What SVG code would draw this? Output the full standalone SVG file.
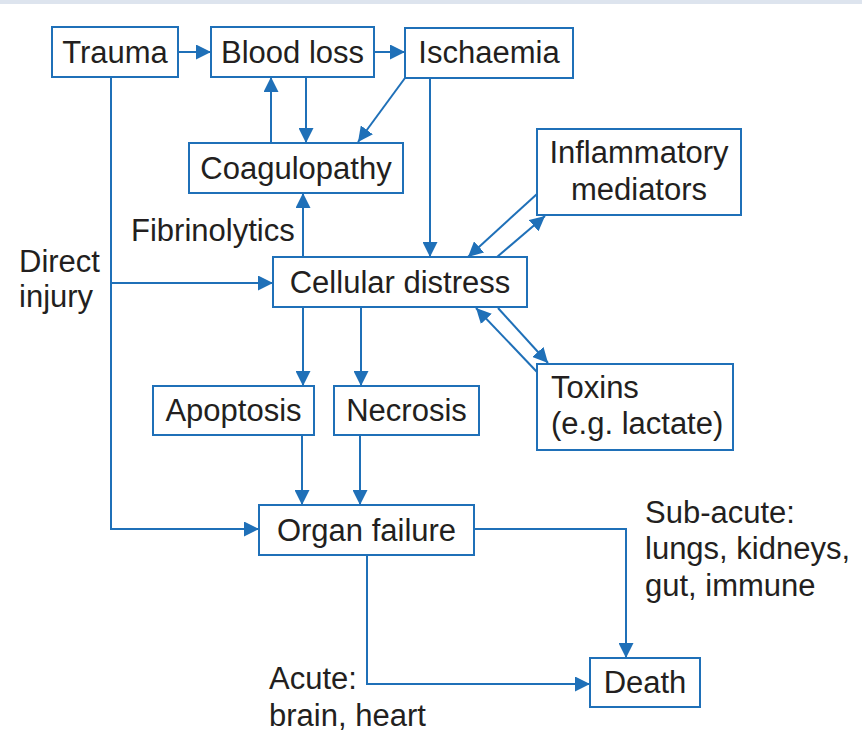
<svg xmlns="http://www.w3.org/2000/svg" width="862" height="745" viewBox="0 0 862 745">
<defs>
<style>
.box{fill:#fff;stroke:#1f70b8;stroke-width:2}
.ln{fill:none;stroke:#1f70b8;stroke-width:2}
.t{font-family:"Liberation Sans",Arial,sans-serif;font-size:31px;fill:#231f20}
.c{text-anchor:middle}
</style>
<marker id="ah" markerUnits="userSpaceOnUse" markerWidth="16" markerHeight="15" refX="15" refY="7.5" orient="auto">
<path d="M0,0 L15,7.5 L0,15 z" fill="#1f70b8"/>
</marker>
</defs>
<rect x="0" y="0" width="862" height="745" fill="#fff"/>
<rect x="0" y="0" width="862" height="4" fill="#dde4ee"/>
<g id="connectors">
<line class="ln" x1="178" y1="52" x2="211" y2="52" marker-end="url(#ah)"/>
<line class="ln" x1="374" y1="52" x2="405" y2="52" marker-end="url(#ah)"/>
<line class="ln" x1="271" y1="143" x2="271" y2="77" marker-end="url(#ah)"/>
<line class="ln" x1="306" y1="77" x2="306" y2="143" marker-end="url(#ah)"/>
<line class="ln" x1="405" y1="78" x2="358" y2="142" marker-end="url(#ah)"/>
<line class="ln" x1="430" y1="78" x2="430" y2="257" marker-end="url(#ah)"/>
<line class="ln" x1="303" y1="257" x2="303" y2="193" marker-end="url(#ah)"/>
<polyline class="ln" points="111,77 111,529 259,529" marker-end="url(#ah)"/>
<line class="ln" x1="111" y1="283" x2="273" y2="283" marker-end="url(#ah)"/>
<line class="ln" x1="537" y1="194" x2="468" y2="257" marker-end="url(#ah)"/>
<line class="ln" x1="497" y1="257" x2="545" y2="216" marker-end="url(#ah)"/>
<line class="ln" x1="537" y1="372" x2="476" y2="308" marker-end="url(#ah)"/>
<line class="ln" x1="498" y1="308" x2="548" y2="363" marker-end="url(#ah)"/>
<line class="ln" x1="303" y1="307" x2="303" y2="386" marker-end="url(#ah)"/>
<line class="ln" x1="361" y1="307" x2="361" y2="386" marker-end="url(#ah)"/>
<line class="ln" x1="302" y1="435" x2="302" y2="505" marker-end="url(#ah)"/>
<line class="ln" x1="360" y1="435" x2="360" y2="505" marker-end="url(#ah)"/>
<polyline class="ln" points="474,529 626,529 626,658" marker-end="url(#ah)"/>
<polyline class="ln" points="367,555 367,684 590,684" marker-end="url(#ah)"/>
</g>
<g id="trauma"><rect class="box" x="52" y="27" width="126" height="50"/><text class="t c" x="115" y="63">Trauma</text></g>
<g id="bloodloss"><rect class="box" x="211" y="27" width="163" height="50"/><text class="t c" x="292.5" y="63">Blood loss</text></g>
<g id="ischaemia"><rect class="box" x="405" y="28" width="168" height="50"/><text class="t c" x="489" y="63">Ischaemia</text></g>
<g id="coagulopathy"><rect class="box" x="189" y="143" width="214" height="50"/><text class="t c" x="296" y="179">Coagulopathy</text></g>
<g id="inflammatory"><rect class="box" x="537" y="129" width="204" height="86"/><text class="t c" x="639" y="163">Inflammatory</text><text class="t c" x="639" y="200">mediators</text></g>
<g id="cellular"><rect class="box" x="273" y="257" width="254" height="50"/><text class="t c" x="400" y="293">Cellular distress</text></g>
<g id="toxins"><rect class="box" x="537" y="364" width="196" height="86"/><text class="t" x="551" y="398">Toxins</text><text class="t" x="551" y="434">(e.g. lactate)</text></g>
<g id="apoptosis"><rect class="box" x="153" y="386" width="161" height="49"/><text class="t c" x="233.5" y="421">Apoptosis</text></g>
<g id="necrosis"><rect class="box" x="334" y="386" width="145" height="49"/><text class="t c" x="406.5" y="421">Necrosis</text></g>
<g id="organfailure"><rect class="box" x="259" y="505" width="215" height="50"/><text class="t c" x="366.5" y="541">Organ failure</text></g>
<g id="death"><rect class="box" x="590" y="658" width="110" height="49"/><text class="t c" x="645" y="693">Death</text></g>
<g id="labels">
<text class="t" x="131" y="241">Fibrinolytics</text>
<text class="t" x="19" y="272">Direct</text>
<text class="t" x="19" y="307">injury</text>
<text class="t" x="645" y="523">Sub-acute:</text>
<text class="t" x="645" y="559">lungs, kidneys,</text>
<text class="t" x="645" y="596">gut, immune</text>
<text class="t" x="269" y="689">Acute:</text>
<text class="t" x="269" y="726">brain, heart</text>
</g>
</svg>
